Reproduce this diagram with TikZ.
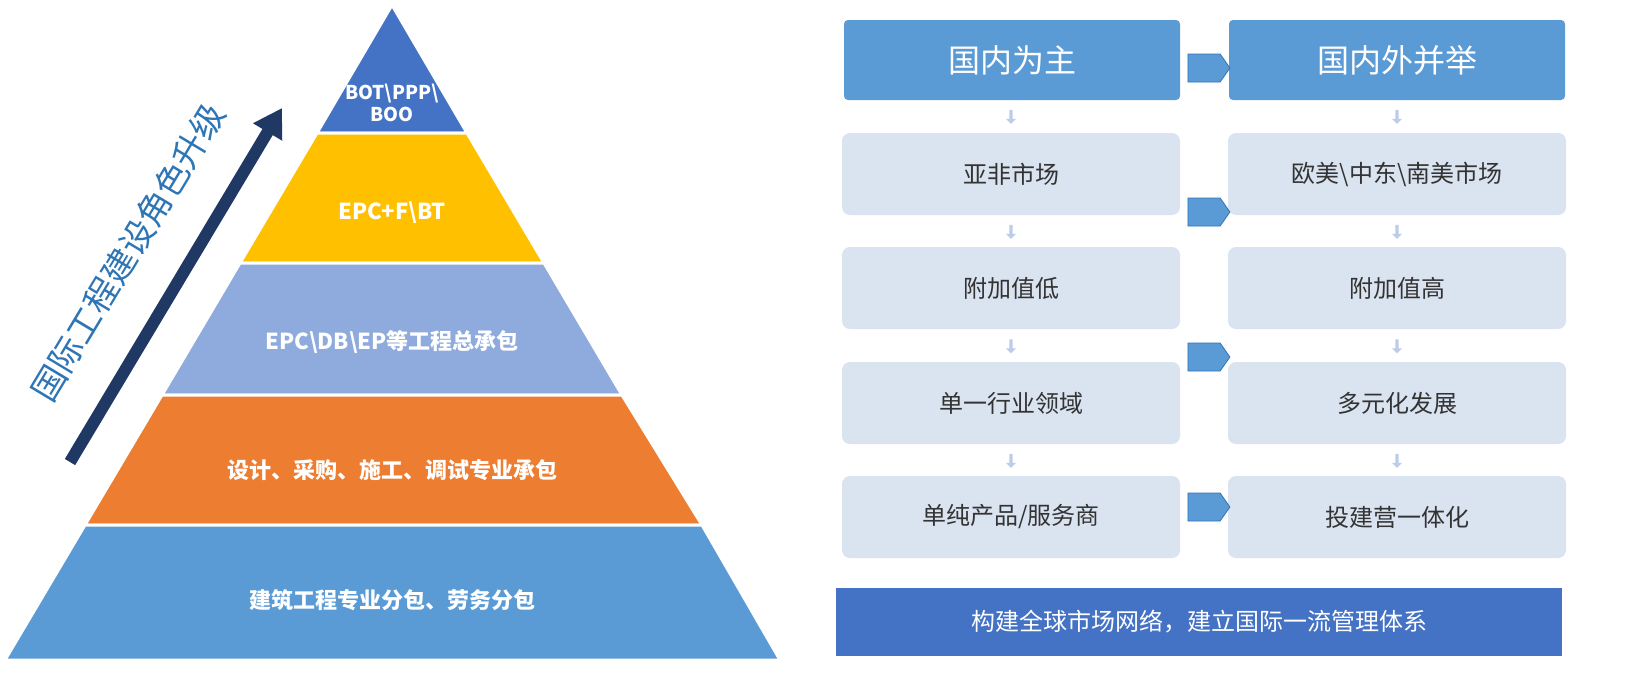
\documentclass[tikz,border=0pt]{standalone}
\usepackage{fontspec}
\setmainfont{Noto Sans CJK SC}
\usetikzlibrary{positioning,shapes.arrows,arrows.meta,calc}
\definecolor{topblue}{HTML}{4472C4}
\definecolor{gold}{HTML}{FFC000}
\definecolor{paleblue}{HTML}{8FAADC}
\definecolor{orangec}{HTML}{ED7D31}
\definecolor{midblue}{HTML}{5B9BD5}
\definecolor{navy}{HTML}{203864}
\definecolor{textblue}{HTML}{2E75B6}
\definecolor{rowfill}{HTML}{DAE3F0}
\tikzset{
  layer/.style  = {draw=white, line width=1.5pt},
  layertext/.style = {text=white, font=\bfseries\fontsize{11}{12}\selectfont, align=center},
  head/.style   = {fill=midblue, rounded corners=2pt, minimum width=168pt, minimum height=40pt,
                   text=white, font=\fontsize{16}{18}\selectfont},
  row/.style    = {fill=rowfill, rounded corners=4pt, minimum width=169pt, minimum height=41pt,
                   text=black!80, font=\fontsize{12}{13}\selectfont},
  side/.style   = {single arrow, draw=textblue, fill=midblue, single arrow head extend=0pt,
                   single arrow tip angle=110, minimum height=21pt, minimum width=14pt, inner sep=0pt},
  down/.style   = {single arrow, fill=paleblue!60, rotate=270, single arrow head extend=1.5pt,
                   minimum height=7pt, minimum width=5pt, inner sep=0.5pt}
}
\begin{document}
\begin{tikzpicture}[x=0.5pt,y=-0.5pt]
\useasboundingbox (0,0) rectangle (1627,687);
% pyramid
\fill[topblue,layer]   (392,5) -- (467,133) -- (317,133) -- cycle;
\fill[gold,layer]      (317,133) -- (467,133) -- (544,263) -- (240,263) -- cycle;
\fill[paleblue,layer]  (240,263) -- (544,263) -- (622,395) -- (162,395) -- cycle;
\fill[orangec,layer]   (162,395) -- (622,395) -- (702,525) -- (85,525) -- cycle;
\fill[midblue,layer]   (85,525) -- (702,525) -- (780,660) -- (5,660) -- cycle;
\node[layertext, font=\bfseries\fontsize{9.5}{11}\selectfont] (p1) at (392,103) {BOT\textbackslash PPP\textbackslash\\BOO};
\node[layertext] (p2) at (392,213) {EPC+F\textbackslash BT};
\node[layertext] (p3) at (392,342) {EPC\textbackslash DB\textbackslash EP等工程总承包};
\node[layertext] (p4) at (392,470) {设计、采购、施工、调试专业承包};
\node[layertext] (p5) at (392,600) {建筑工程专业分包、劳务分包};
% upgrade arrow
\coordinate (a0) at (70,462);
\coordinate (a1) at (282,108);
\draw[navy, line width=6pt, -{Triangle[length=14pt,width=16pt]}] (a0) -- (a1);
\node[text=textblue, rotate=59, font=\fontsize{17}{20}\selectfont] (lbl) at (128,252) {国际工程建设角色升级};
% right side
\node[head] (h1) at (1012,60) {国内为主};
\node[head] (h2) at (1397,60) {国内外并举};
\node[row] (l1) at (1011,174) {亚非市场};
\node[row] (l2) at (1011,288) {附加值低};
\node[row] (l3) at (1011,403) {单一行业领域};
\node[row] (l4) at (1011,517) {单纯产品/服务商};
\node[row] (r1) at (1397,174) {欧美\textbackslash 中东\textbackslash 南美市场};
\node[row] (r2) at (1397,288) {附加值高};
\node[row] (r3) at (1397,403) {多元化发展};
\node[row] (r4) at (1397,517) {投建营一体化};
\node[fill=topblue, minimum width=363pt, minimum height=34pt, text=white,
      font=\fontsize{12}{14}\selectfont] (bar) at (1199,622) {构建全球市场网络，建立国际一流管理体系};
\node[side] (s0) at (1204,68) {};
\node[side] (s1) at (1204,212) {};
\node[side] (s2) at (1204,357) {};
\node[side] (s3) at (1204,507) {};
\node[down] at (1011,116) {};
\node[down] at (1397,116) {};
\foreach \i/\j in {1/2,2/3,3/4} {
  \node[down] at ($(l\i.south)!0.5!(l\j.north)$) {};
  \node[down] at ($(r\i.south)!0.5!(r\j.north)$) {};
}
\end{tikzpicture}
\end{document}
